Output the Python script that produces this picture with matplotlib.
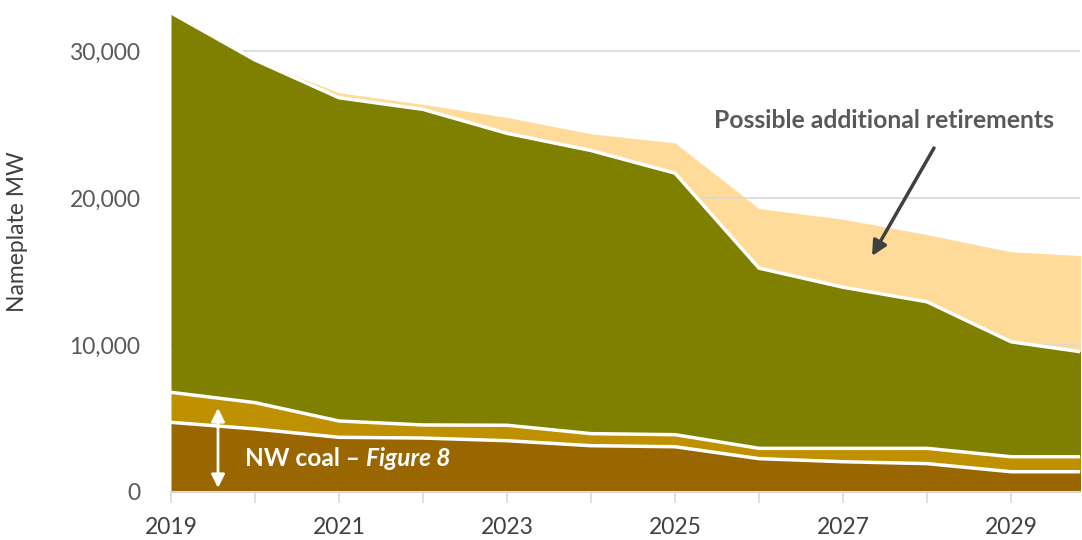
import matplotlib
matplotlib.use("Agg")
import matplotlib.pyplot as plt
import numpy as np

# ---- data (MW, stacked layers) ----
years = [2019, 2020, 2021, 2022, 2023, 2024, 2025, 2026, 2027, 2028, 2029, 2030]
nw_coal = [4740, 4290, 3720, 3670, 3490, 3150, 3080, 2270, 2060, 1930, 1380, 1380]
other_nw = [2040, 1790, 1110, 890, 1050, 820, 820, 700, 910, 1040, 1020, 1020]
rest_of_west = [25820, 23310, 21990, 21470, 19860, 19260, 17790, 12260, 10960, 9970, 7820, 7000]
possible_additional = [0, 0, 340, 340, 1080, 1140, 2060, 4050, 4630, 4570, 6120, 6630]

year_ticks = list(range(2019, 2030))
year_labels = [str(y) if y % 2 == 1 else "" for y in year_ticks]
y_ticks = [0, 10000, 20000, 30000]
y_labels = ["0", "10,000", "20,000", "30,000"]

plt.rcParams['font.family'] = ['Lato', 'DejaVu Sans']

fig = plt.figure(figsize=(10.82, 5.40), dpi=100)
ax = fig.add_axes([171/1082, 1-492/540, 909/1082, 492/540])

x = np.array(years, dtype=float)
b = np.array(nw_coal, dtype=float)
g = b + np.array(other_nw, dtype=float)
o = g + np.array(rest_of_west, dtype=float)
t = o + np.array(possible_additional, dtype=float)

col_brown = "#996600"
col_gold = "#BF9000"
col_olive = "#808000"
col_light = "#FFDB99"

ax.fill_between(x, o, t, color=col_light, lw=0, zorder=0.3)
ax.fill_between(x, g, o, color=col_olive, lw=0, zorder=2)
ax.fill_between(x, b, g, color=col_gold, lw=0, zorder=2)
ax.fill_between(x, 0, b, color=col_brown, lw=0, zorder=2)
for top in (b, g, o):
    ax.plot(x, top, color="white", lw=2.5, zorder=3, solid_joinstyle="miter")

ax.set_xlim(2019, 2019 + (1080 - 171) / 84)
ax.set_ylim(0, 492 / 14.7 * 1000)

ax.set_yticks(y_ticks)
ax.set_yticklabels(y_labels)
ax.set_xticks(year_ticks)
ax.set_xticklabels(year_labels)
ax.yaxis.grid(True, color="#D9D9D9", lw=1.2)
ax.set_axisbelow(True)
for s in ("top", "right", "left"):
    ax.spines[s].set_visible(False)
ax.spines["bottom"].set_color("#D9D9D9")
ax.spines["bottom"].set_linewidth(1.5)
ax.spines["bottom"].set_zorder(4)
ax.tick_params(axis="x", direction="out", length=8, width=1.2, color="#D9D9D9",
               labelsize=16.5, labelcolor="#404040", pad=10)
ax.tick_params(axis="y", length=0, labelsize=16.5, labelcolor="#595959", pad=22)

fig.text(18/1082, 1-232/540, "Nameplate MW", rotation=90, ha="center", va="center",
         fontsize=16.5, color="#404040")

# annotations
ax.text(2019 + (884 - 171) / 84, (492 - 120) / 14.7 * 1000, "Possible additional retirements",
        ha="center", va="center", fontsize=17.8, fontweight="bold", color="#595959", zorder=5)
ax.annotate("", xy=(2019 + (872 - 171) / 84, (492 - 256) / 14.7 * 1000),
            xytext=(2019 + (934 - 171) / 84, (492 - 148) / 14.7 * 1000),
            arrowprops=dict(arrowstyle="-|>", color="#404040", lw=2.5, mutation_scale=22,
                            shrinkA=0, shrinkB=0), zorder=5)

ax.annotate("", xy=(2019 + (218 - 171) / 84, (492 - 488) / 14.7 * 1000),
            xytext=(2019 + (218 - 171) / 84, (492 - 408) / 14.7 * 1000),
            arrowprops=dict(arrowstyle="<|-|>", color="white", lw=2, mutation_scale=20,
                            shrinkA=0, shrinkB=0), zorder=5)
t1 = ax.text(2019 + (245 - 171) / 84, (492 - 458) / 14.7 * 1000, "NW coal \u2013 ",
             ha="left", va="center", fontsize=17.6, fontweight="bold", color="white", zorder=5)
ax.annotate("Figure 8", xy=(1, 0), xycoords=t1, ha="left", va="bottom",
            fontsize=17.6, fontweight="bold", fontstyle="italic", color="white", zorder=5)

fig.savefig("out.png", dpi=100)
